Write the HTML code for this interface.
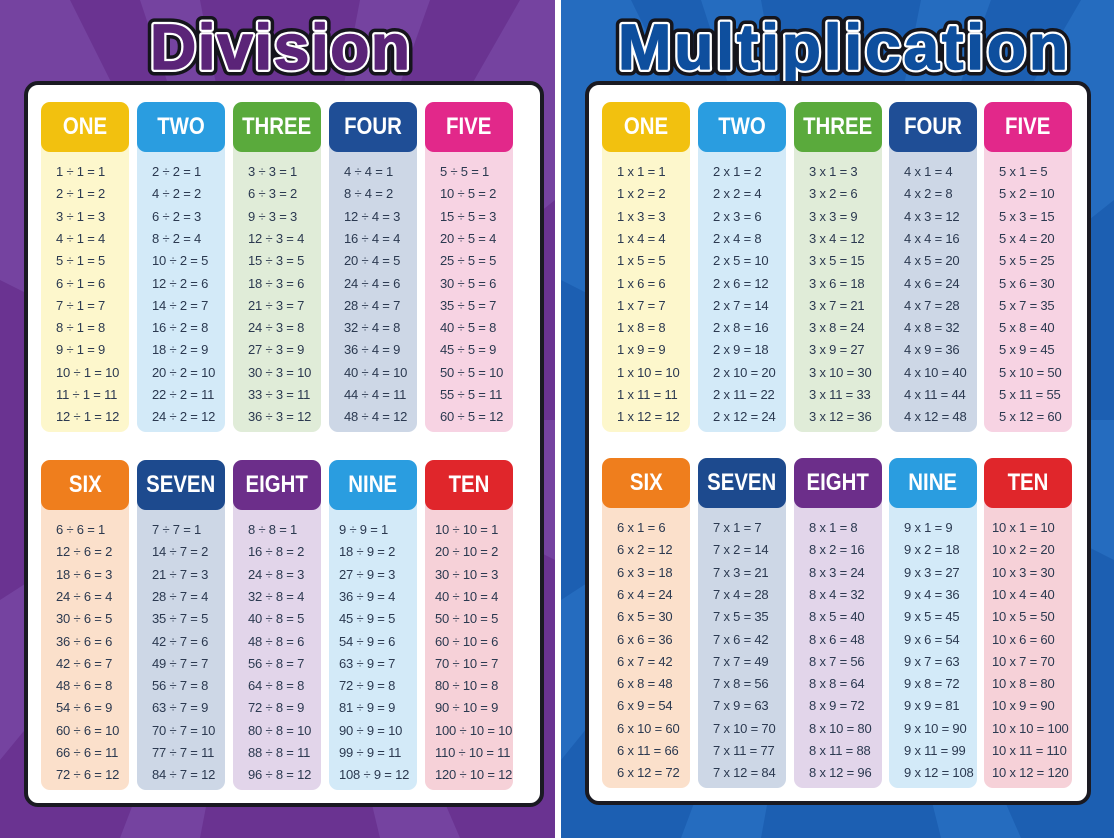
<!DOCTYPE html><html><head><meta charset="utf-8"><style>
body{margin:0;width:1114px;height:838px;overflow:hidden;background:#fff;font-family:"Liberation Sans",sans-serif;position:relative}
.bg{position:absolute;top:0;height:838px;overflow:hidden}
.panel{position:absolute;background:#fff;border:4px solid #1a1a22;border-radius:14px;box-sizing:border-box}
.hd{position:absolute;height:50px;border-radius:9px;color:#fff;font-family:"Liberation Sans",sans-serif;font-weight:bold;font-size:24px;display:flex;align-items:center;justify-content:center}
.hd span{display:inline-block;transform:scaleX(0.85)}
.bd{position:absolute;border-radius:0 0 9px 9px}
.r{position:absolute;font-size:13px;color:#2b3950;white-space:nowrap;letter-spacing:-0.2px}
</style></head><body>
<div class="bg" style="left:0;width:555px;background:#6a3391">
<svg width="555" height="838"><g fill="#7543a0">
<polygon points="0,0 70,0 280,420 0,280"/><polygon points="140,0 200,0 280,420"/><polygon points="360,0 430,0 280,420"/><polygon points="520,0 555,0 555,200 280,420"/><polygon points="555,420 555,560 280,420"/><polygon points="0,600 0,760 280,420"/><polygon points="120,838 200,838 280,420"/><polygon points="380,838 460,838 280,420"/></g></svg></div>
<div class="bg" style="left:561px;width:553px;background:#1c5fb2">
<svg width="553" height="838"><g fill="#256cbf">
<polygon points="0,0 70,0 276,420 0,280"/><polygon points="140,0 200,0 276,420"/><polygon points="360,0 430,0 276,420"/><polygon points="520,0 553,0 553,200 276,420"/><polygon points="553,420 553,560 276,420"/><polygon points="0,600 0,760 276,420"/><polygon points="120,838 200,838 276,420"/><polygon points="380,838 460,838 276,420"/></g></svg></div>
<svg style="position:absolute;left:0;top:0" width="1114" height="100">
<g font-family="Liberation Sans,sans-serif" font-weight="bold" font-size="64" text-anchor="middle" stroke-linejoin="round">
<text x="280" y="69" stroke="#15151c" stroke-width="13" fill="#15151c" textLength="260">Division</text>
<text x="280" y="69" stroke="#fff" stroke-width="6" fill="#fff" textLength="260">Division</text>
<text x="280" y="69" fill="#5b2478" stroke="#5b2478" stroke-width="1.5" textLength="260">Division</text>
<text x="843" y="69" stroke="#15151c" stroke-width="13" fill="#15151c" textLength="450">Multiplication</text>
<text x="843" y="69" stroke="#fff" stroke-width="6" fill="#fff" textLength="450">Multiplication</text>
<text x="843" y="69" fill="#0e4f9e" stroke="#0e4f9e" stroke-width="1.5" textLength="450">Multiplication</text>
</g></svg>
<div class="panel" style="left:24px;top:81px;width:520px;height:726px"></div>
<div class="panel" style="left:585px;top:81px;width:506px;height:724px"></div>
<div id="c"></div>
<script>
const names=["ONE","TWO","THREE","FOUR","FIVE","SIX","SEVEN","EIGHT","NINE","TEN"];
const hc=["#f2c10f","#2a9de0","#5aaa3c","#1f4e96","#e2288a","#ef7e1d","#1d4a8e","#6c2e8a","#2a9de0","#e0262b"];
const bc=["#fdf7cc","#d3eaf8","#e0ecd8","#cdd7e6","#f7d3e3","#fbe0cb","#cdd7e6","#e2d5ea","#d3eaf8","#f6d1d8"];
let h="";
function poster(xs,tops,div){
 for(let k=0;k<10;k++){
  const col=k%5,row=Math.floor(k/5),x=xs[col],t=tops[row],n=k+1;
  h+=`<div class="bd" style="left:${x}px;top:${t+40}px;width:88px;height:290px;background:${bc[k]}"></div>`;
  h+=`<div class="hd" style="left:${x}px;top:${t}px;width:88px;background:${hc[k]}"><span>${names[k]}</span></div>`;
  for(let i=1;i<=12;i++){
   const s=div?`${n*i} ÷ ${n} = ${i}`:`${n} x ${i} = ${n*i}`;
   const off=div?(n>=9?10:15):(n>=10?8:15);
   h+=`<div class="r" style="left:${x+off}px;top:${t+62+(i-1)*22.3}px">${s}</div>`;
  }
 }
}
poster([41,137,233,329,425],[102,460],true);
poster([602,698,794,889,984],[102,458],false);
document.getElementById("c").innerHTML=h;
</script>
</body></html>
